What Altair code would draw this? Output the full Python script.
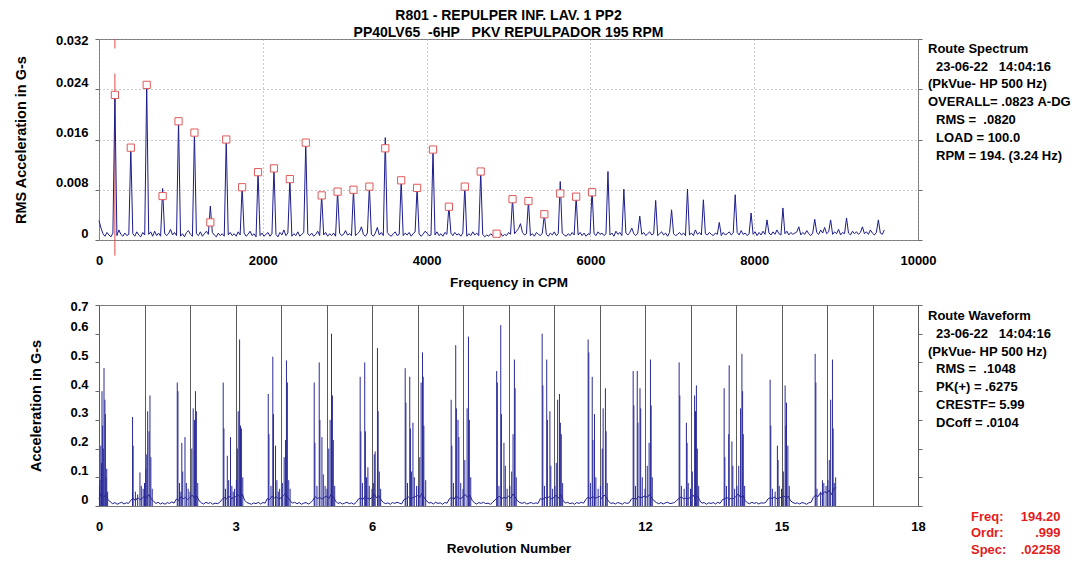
import altair as alt
import pandas as pd

# ---------------------------------------------------------------- data
FONT = "Liberation Sans"
NAVY = "#1c1c8e"
SPIKE = "#2a2a98"
MARK_RED = "#e05a5a"
CURSOR_RED = "#e04848"
READ_RED = "#e31c1c"

title_lines = ["R801 - REPULPER INF. LAV. 1 PP2",
               "PP40LV65  -6HP   PKV REPULPADOR 195 RPM"]

# 1X running speed (CPM) -> spectrum bins are 1/8 of 1X wide
RUN_CPM = 194.2
BINS_PER_ORDER = 8

# spectrum amplitude (G-s RMS) at 0 CPM and at every order 1X..49X
order_amp = [0.0031,
             0.0229, 0.0147, 0.0247, 0.0082, 0.0190, 0.0171, 0.0054, 0.0160, 0.0085, 0.0109,
             0.0115, 0.0097, 0.0155, 0.0072, 0.0078, 0.0080, 0.0086, 0.0163, 0.0095, 0.0084,
             0.0144, 0.0054, 0.0086, 0.0109, 0.0014, 0.0066, 0.0062, 0.0041, 0.0093, 0.0069,
             0.0080, 0.0109, 0.0081, 0.0038, 0.0063, 0.0048, 0.0081, 0.0064, 0.0028, 0.0072,
             0.0043, 0.0032, 0.0051, 0.0021, 0.0033, 0.0032, 0.0035, 0.0021, 0.0032]

# spectrum amplitude of the bins between order k and k+1 (k = 0..48), then the last bins
between_amp = [
    [0.0019, 0.0010, 0.0006, 0.0012, 0.0008, 0.0005, 0.0011],
    [0.0007, 0.0016, 0.0009, 0.0006, 0.0011, 0.0007, 0.0009],
    [0.0010, 0.0006, 0.0013, 0.0008, 0.0005, 0.0012, 0.0008],
    [0.0009, 0.0013, 0.0006, 0.0014, 0.0007, 0.0011, 0.0006],
    [0.0011, 0.0007, 0.0010, 0.0017, 0.0008, 0.0012, 0.0007],
    [0.0006, 0.0010, 0.0005, 0.0012, 0.0015, 0.0009, 0.0006],
    [0.0010, 0.0007, 0.0013, 0.0006, 0.0010, 0.0014, 0.0009],
    [0.0012, 0.0008, 0.0005, 0.0011, 0.0007, 0.0010, 0.0006],
    [0.0008, 0.0012, 0.0007, 0.0010, 0.0006, 0.0013, 0.0008],
    [0.0011, 0.0006, 0.0009, 0.0014, 0.0007, 0.0010, 0.0005],
    [0.0007, 0.0011, 0.0006, 0.0009, 0.0012, 0.0006, 0.0010],
    [0.0009, 0.0005, 0.0012, 0.0008, 0.0016, 0.0007, 0.0011],
    [0.0006, 0.0010, 0.0007, 0.0013, 0.0006, 0.0009, 0.0012],
    [0.0010, 0.0007, 0.0011, 0.0006, 0.0009, 0.0014, 0.0007],
    [0.0008, 0.0012, 0.0006, 0.0010, 0.0007, 0.0011, 0.0006],
    [0.0011, 0.0007, 0.0009, 0.0015, 0.0008, 0.0010, 0.0007],
    [0.0007, 0.0010, 0.0013, 0.0021, 0.0009, 0.0006, 0.0011],
    [0.0009, 0.0006, 0.0011, 0.0020, 0.0008, 0.0012, 0.0007],
    [0.0012, 0.0008, 0.0006, 0.0010, 0.0013, 0.0007, 0.0009],
    [0.0007, 0.0011, 0.0008, 0.0012, 0.0006, 0.0010, 0.0013],
    [0.0010, 0.0006, 0.0009, 0.0014, 0.0011, 0.0007, 0.0008],
    [0.0008, 0.0013, 0.0007, 0.0010, 0.0006, 0.0012, 0.0009],
    [0.0011, 0.0007, 0.0012, 0.0008, 0.0010, 0.0006, 0.0011],
    [0.0006, 0.0010, 0.0007, 0.0013, 0.0008, 0.0011, 0.0007],
    [0.0009, 0.0005, 0.0008, 0.0006, 0.0010, 0.0007, 0.0012],
    [0.0008, 0.0011, 0.0006, 0.0009, 0.0007, 0.0012, 0.0009],
    [0.0010, 0.0014, 0.0018, 0.0026, 0.0012, 0.0008, 0.0010],
    [0.0007, 0.0010, 0.0006, 0.0012, 0.0009, 0.0007, 0.0011],
    [0.0009, 0.0006, 0.0011, 0.0008, 0.0013, 0.0007, 0.0010],
    [0.0011, 0.0008, 0.0006, 0.0010, 0.0007, 0.0012, 0.0008],
    [0.0008, 0.0012, 0.0007, 0.0011, 0.0006, 0.0010, 0.0009],
    [0.0010, 0.0007, 0.0013, 0.0009, 0.0011, 0.0007, 0.0010],
    [0.0008, 0.0011, 0.0006, 0.0014, 0.0009, 0.0012, 0.0007],
    [0.0011, 0.0008, 0.0012, 0.0019, 0.0010, 0.0007, 0.0011],
    [0.0009, 0.0012, 0.0007, 0.0010, 0.0013, 0.0008, 0.0010],
    [0.0007, 0.0010, 0.0013, 0.0008, 0.0011, 0.0006, 0.0012],
    [0.0010, 0.0007, 0.0009, 0.0012, 0.0008, 0.0011, 0.0007],
    [0.0008, 0.0011, 0.0007, 0.0016, 0.0009, 0.0012, 0.0008],
    [0.0010, 0.0008, 0.0012, 0.0009, 0.0007, 0.0011, 0.0009],
    [0.0007, 0.0012, 0.0008, 0.0010, 0.0013, 0.0008, 0.0011],
    [0.0012, 0.0008, 0.0015, 0.0009, 0.0011, 0.0007, 0.0010],
    [0.0009, 0.0013, 0.0007, 0.0012, 0.0008, 0.0014, 0.0009],
    [0.0011, 0.0008, 0.0013, 0.0009, 0.0016, 0.0010, 0.0008],
    [0.0010, 0.0014, 0.0008, 0.0012, 0.0009, 0.0011, 0.0013],
    [0.0008, 0.0012, 0.0009, 0.0015, 0.0010, 0.0007, 0.0011],
    [0.0012, 0.0009, 0.0016, 0.0011, 0.0020, 0.0010, 0.0013],
    [0.0009, 0.0013, 0.0010, 0.0017, 0.0008, 0.0012, 0.0010],
    [0.0011, 0.0008, 0.0014, 0.0010, 0.0013, 0.0009, 0.0012],
    [0.0010, 0.0013, 0.0009, 0.0016, 0.0011, 0.0008, 0.0012],
    [0.0011, 0.0009, 0.0016],
]

# red square markers on orders 1X..31X
marker_amp = [0.0231, 0.0147, 0.0247, 0.0070, 0.0189, 0.0171, 0.0028, 0.0160, 0.0084, 0.0108,
              0.0114, 0.0097, 0.0155, 0.0071, 0.0077, 0.0080, 0.0085, 0.0146, 0.0095, 0.0083,
              0.0144, 0.0053, 0.0085, 0.0109, 0.0010, 0.0065, 0.0062, 0.0041, 0.0074, 0.0069,
              0.0076]

# cursor on 1X: drawn in two pieces (G-s)
cursor_lo = [-0.0025, 0.0305]
cursor_hi = [0.0265, 0.0320]

spec_x_ticks = [0, 2000, 4000, 6000, 8000, 10000]
spec_y_ticks = [0, 0.008, 0.016, 0.024, 0.032]

spectrum_info = ["Route Spectrum", " 23-06-22   14:04:16", "(PkVue- HP 500 Hz)",
                 "OVERALL= .0823 A-DG", " RMS =  .0820", " LOAD = 100.0",
                 " RPM = 194. (3.24 Hz)"]

# waveform baseline every 0.05 revolution (G-s), one row per revolution
wave_floor = [
    [0.025, 0.045, 0.030, 0.040, 0.022, 0.014, 0.008, 0.012, 0.006, 0.010, 0.013, 0.007, 0.011, 0.009, 0.020, 0.028, 0.018, 0.030, 0.022, 0.026],
    [0.035, 0.028, 0.040, 0.025, 0.016, 0.009, 0.013, 0.007, 0.011, 0.006, 0.012, 0.009, 0.014, 0.010, 0.024, 0.020, 0.032, 0.025, 0.030, 0.022],
    [0.030, 0.038, 0.026, 0.035, 0.018, 0.011, 0.007, 0.013, 0.009, 0.012, 0.006, 0.010, 0.008, 0.012, 0.022, 0.030, 0.024, 0.035, 0.026, 0.028],
    [0.032, 0.040, 0.030, 0.042, 0.020, 0.012, 0.009, 0.006, 0.011, 0.008, 0.013, 0.007, 0.012, 0.010, 0.026, 0.022, 0.034, 0.028, 0.032, 0.025],
    [0.028, 0.036, 0.044, 0.030, 0.019, 0.010, 0.013, 0.008, 0.012, 0.006, 0.010, 0.012, 0.007, 0.011, 0.020, 0.032, 0.026, 0.030, 0.024, 0.030],
    [0.034, 0.026, 0.040, 0.032, 0.017, 0.009, 0.012, 0.007, 0.010, 0.013, 0.008, 0.011, 0.006, 0.012, 0.024, 0.028, 0.022, 0.034, 0.027, 0.024],
    [0.030, 0.042, 0.028, 0.036, 0.021, 0.012, 0.008, 0.011, 0.006, 0.012, 0.009, 0.013, 0.010, 0.007, 0.022, 0.026, 0.032, 0.024, 0.029, 0.033],
    [0.036, 0.030, 0.045, 0.028, 0.018, 0.010, 0.012, 0.007, 0.013, 0.009, 0.011, 0.006, 0.012, 0.010, 0.025, 0.030, 0.023, 0.036, 0.028, 0.026],
    [0.032, 0.040, 0.030, 0.038, 0.020, 0.011, 0.007, 0.012, 0.009, 0.013, 0.008, 0.010, 0.006, 0.012, 0.021, 0.028, 0.034, 0.025, 0.030, 0.027],
    [0.034, 0.028, 0.042, 0.030, 0.017, 0.012, 0.009, 0.013, 0.007, 0.010, 0.012, 0.008, 0.011, 0.009, 0.026, 0.022, 0.030, 0.027, 0.033, 0.024],
    [0.030, 0.038, 0.027, 0.040, 0.019, 0.010, 0.013, 0.008, 0.011, 0.006, 0.012, 0.009, 0.013, 0.010, 0.023, 0.031, 0.025, 0.034, 0.026, 0.030],
    [0.033, 0.026, 0.038, 0.030, 0.016, 0.009, 0.011, 0.007, 0.012, 0.010, 0.006, 0.012, 0.009, 0.011, 0.024, 0.028, 0.022, 0.033, 0.029, 0.031],
    [0.035, 0.030, 0.040, 0.027, 0.018, 0.012, 0.008, 0.012, 0.007, 0.011, 0.013, 0.008, 0.010, 0.012, 0.020, 0.027, 0.032, 0.024, 0.028, 0.025],
    [0.031, 0.039, 0.028, 0.036, 0.020, 0.010, 0.012, 0.006, 0.011, 0.009, 0.012, 0.007, 0.013, 0.009, 0.022, 0.025, 0.030, 0.023, 0.027, 0.026],
    [0.034, 0.042, 0.030, 0.038, 0.019, 0.011, 0.008, 0.013, 0.009, 0.012, 0.007, 0.011, 0.010, 0.012, 0.024, 0.029, 0.026, 0.031, 0.025, 0.028],
    [0.030, 0.036, 0.028, 0.034, 0.018, 0.012, 0.009, 0.011, 0.007, 0.012, 0.010, 0.006, 0.011, 0.013, 0.030, 0.038, 0.032, 0.045, 0.040, 0.050],
    [0.045, 0.055, 0.040, 0.060, 0.065],
]
FLOOR_STEP = 0.05  # revolutions between baseline samples

# impacts in the waveform: (revolution, peak G-s)
wave_spikes = [
    (0.01, 0.07), (0.02, 0.09), (0.04, 0.21), (0.055, 0.15), (0.066, 0.40), (0.08, 0.28),
    (0.095, 0.20), (0.11, 0.48), (0.13, 0.37), (0.14, 0.32), (0.155, 0.10), (0.17, 0.13),
    (0.19, 0.05),
    (0.737, 0.31), (0.75, 0.21), (0.80, 0.05), (0.85, 0.04), (0.90, 0.117), (0.93, 0.07),
    (0.97, 0.06), (1.00, 0.08), (1.03, 0.13), (1.05, 0.18), (1.07, 0.33), (1.10, 0.26),
    (1.12, 0.385), (1.14, 0.17), (1.17, 0.06),
    (1.72, 0.43), (1.735, 0.40), (1.77, 0.08), (1.80, 0.05), (1.82, 0.22), (1.84, 0.12),
    (1.89, 0.24), (1.92, 0.08), (1.96, 0.06), (2.00, 0.05), (2.04, 0.20), (2.07, 0.34),
    (2.10, 0.30), (2.12, 0.40), (2.14, 0.33), (2.17, 0.08),
    (2.73, 0.43), (2.745, 0.27), (2.78, 0.06), (2.82, 0.175), (2.85, 0.09), (2.89, 0.24),
    (2.92, 0.07), (2.95, 0.05), (2.98, 0.06), (3.02, 0.09), (3.04, 0.20), (3.06, 0.33),
    (3.09, 0.58), (3.11, 0.28), (3.13, 0.27), (3.16, 0.10),
    (3.72, 0.39), (3.735, 0.25), (3.78, 0.07), (3.82, 0.52), (3.835, 0.32), (3.88, 0.21),
    (3.91, 0.09), (3.94, 0.05), (3.97, 0.06), (4.03, 0.08), (4.07, 0.17), (4.10, 0.23),
    (4.12, 0.507), (4.14, 0.43), (4.17, 0.09), (4.20, 0.06),
    (4.73, 0.43), (4.745, 0.22), (4.79, 0.07), (4.84, 0.50), (4.855, 0.30), (4.90, 0.24),
    (4.93, 0.11), (4.97, 0.07), (5.01, 0.06), (5.05, 0.20), (5.08, 0.30), (5.11, 0.60),
    (5.13, 0.385), (5.15, 0.23), (5.18, 0.07),
    (5.74, 0.45), (5.755, 0.26), (5.79, 0.08), (5.84, 0.50), (5.855, 0.26), (5.88, 0.10),
    (5.91, 0.135), (5.94, 0.07), (6.00, 0.06), (6.03, 0.08), (6.05, 0.18), (6.07, 0.19),
    (6.12, 0.55), (6.135, 0.33), (6.16, 0.12), (6.19, 0.06),
    (6.73, 0.48), (6.745, 0.36), (6.78, 0.08), (6.83, 0.45), (6.845, 0.27), (6.87, 0.12),
    (6.90, 0.29), (6.93, 0.10), (6.98, 0.07), (7.02, 0.07), (7.05, 0.17), (7.08, 0.43),
    (7.11, 0.535), (7.125, 0.45), (7.14, 0.28), (7.18, 0.09),
    (7.74, 0.37), (7.755, 0.21), (7.79, 0.08), (7.84, 0.56), (7.855, 0.34), (7.89, 0.30),
    (7.91, 0.24), (7.95, 0.08), (8.00, 0.06), (8.04, 0.16), (8.09, 0.34), (8.12, 0.59),
    (8.14, 0.30), (8.17, 0.10),
    (8.74, 0.47), (8.755, 0.43), (8.79, 0.07), (8.83, 0.63), (8.845, 0.32), (8.90, 0.22),
    (8.93, 0.14), (8.97, 0.06), (9.03, 0.07), (9.07, 0.12), (9.10, 0.25), (9.13, 0.51),
    (9.145, 0.41), (9.17, 0.10),
    (9.74, 0.60), (9.755, 0.42), (9.79, 0.07), (9.84, 0.51), (9.855, 0.30), (9.91, 0.33),
    (9.93, 0.14), (9.97, 0.06), (10.02, 0.07), (10.05, 0.15), (10.08, 0.37), (10.12, 0.39),
    (10.14, 0.29), (10.16, 0.25), (10.19, 0.08),
    (10.75, 0.58), (10.765, 0.535), (10.80, 0.08), (10.84, 0.45), (10.855, 0.23),
    (10.89, 0.32), (10.92, 0.10), (10.97, 0.06), (11.02, 0.07), (11.06, 0.20), (11.08, 0.34),
    (11.13, 0.41), (11.145, 0.26), (11.17, 0.08),
    (11.74, 0.47), (11.755, 0.35), (11.79, 0.07), (11.83, 0.47), (11.845, 0.29),
    (11.89, 0.41), (11.905, 0.34), (11.94, 0.10), (12.00, 0.06), (12.05, 0.14), (12.09, 0.22),
    (12.12, 0.51), (12.135, 0.35), (12.16, 0.10),
    (12.75, 0.50), (12.765, 0.385), (12.80, 0.07), (12.86, 0.06), (12.91, 0.29),
    (12.925, 0.22), (12.95, 0.08), (13.00, 0.06), (13.04, 0.12), (13.09, 0.385), (13.11, 0.33),
    (13.13, 0.42), (13.15, 0.20), (13.18, 0.07),
    (13.74, 0.41), (13.755, 0.17), (13.79, 0.07), (13.84, 0.25), (13.85, 0.49), (13.91, 0.225),
    (13.93, 0.14), (13.97, 0.06), (14.02, 0.07), (14.06, 0.14), (14.10, 0.34), (14.13, 0.53),
    (14.145, 0.40), (14.16, 0.25), (14.19, 0.07),
    (14.75, 0.44), (14.765, 0.28), (14.80, 0.06), (14.86, 0.05), (14.91, 0.21), (14.925, 0.16),
    (14.95, 0.07), (15.00, 0.06), (15.04, 0.12), (15.08, 0.42), (15.095, 0.28), (15.11, 0.36),
    (15.14, 0.21), (15.17, 0.07),
    (15.74, 0.53), (15.755, 0.43), (15.78, 0.06), (15.86, 0.05), (15.90, 0.09), (15.93, 0.08),
    (15.98, 0.07), (16.02, 0.09), (16.05, 0.16), (16.08, 0.37), (16.12, 0.51), (16.135, 0.27),
    (16.16, 0.08), (16.19, 0.10),
]

wave_x_ticks = [0, 1, 2, 3, 4, 5, 6, 7, 8, 9, 10, 11, 12, 13, 14, 15, 16, 17, 18]
wave_y_ticks = [0, 0.1, 0.2, 0.3, 0.4, 0.5, 0.6, 0.7]

waveform_info = ["Route Waveform", " 23-06-22   14:04:16", "(PkVue- HP 500 Hz)",
                 " RMS =  .1048", " PK(+) = .6275", " CRESTF= 5.99", " DCoff = .0104"]

readout_labels = ["Freq:", "Ordr:", "Spec:"]
readout_values = ["194.20", ".999", ".02258"]

# ---------------------------------------------------------------- frames
spec_rows = []
for k, peak in enumerate(order_amp):
    spec_rows.append({"freq": k * RUN_CPM, "amp": peak})
    for j, v in enumerate(between_amp[k]):
        spec_rows.append({"freq": (k + (j + 1) / BINS_PER_ORDER) * RUN_CPM, "amp": v})
spec_df = pd.DataFrame(spec_rows)

marker_df = pd.DataFrame({"freq": [(i + 1) * RUN_CPM for i in range(len(marker_amp))],
                          "amp": marker_amp})
cursor_df = pd.DataFrame({"freq": [RUN_CPM] * len(cursor_lo), "lo": cursor_lo, "hi": cursor_hi})

floor_rows = []
for n, row in enumerate(wave_floor):
    for j, v in enumerate(row):
        floor_rows.append({"rev": n + j * FLOOR_STEP, "g": v})
floor_df = pd.DataFrame(floor_rows)
spike_df = pd.DataFrame(wave_spikes, columns=["rev", "g"])

# ---------------------------------------------------------------- layout
W, H = 819, 201
INFO_X, INDENT, LINE_H = 829, 8, 17.8


def nb(s):
    return s.replace(" ", "\u00a0")


def text_line(s, x, y, color="black", align="left"):
    return alt.Chart(pd.DataFrame({"t": [nb(s)]})).mark_text(
        font=FONT, fontSize=13, fontWeight="bold", align=align, baseline="middle", color=color
    ).encode(text="t:N", x=alt.value(x), y=alt.value(y))


def info_block(lines, y0):
    out = []
    for i, s in enumerate(lines):
        x = INFO_X + (INDENT if s.startswith(" ") else 0)
        out.append(text_line(s.strip(), x, y0 + i * LINE_H))
    return out


# ---- spectrum
xs = alt.Scale(domain=[0, 10000], nice=False, zero=False)
ys = alt.Scale(domain=[0, 0.032], nice=False)
x_spec_axis = alt.Axis(
    values=spec_x_ticks, format="d", title="Frequency in CPM", ticks=False, domain=False,
    labelPadding=14, titlePadding=8, labelFlush=False, labelOverlap=False,
    grid=True, gridDash=[1, 3], gridColor="#9a9a9a", gridWidth=1)

spec_line = alt.Chart(spec_df).mark_line(color=NAVY, strokeWidth=1).encode(
    x=alt.X("freq:Q", scale=xs, axis=x_spec_axis),
    y=alt.Y("amp:Q", scale=ys, axis=alt.Axis(
        values=spec_y_ticks, title="RMS Acceleration in G-s", tickSize=4, domain=False,
        labelPadding=7, titlePadding=27,
        labelExpr="datum.value == 0 ? '0' : format(datum.value, '.3f')",
        labelOffset={"condition": {"test": "datum.value >= 0.032", "value": 1}, "value": -7},
        grid=True, gridDash=[1, 3], gridColor="#9a9a9a", gridWidth=1)),
)
cursor = alt.Chart(cursor_df).mark_rule(color=CURSOR_RED, strokeWidth=1).encode(
    x=alt.X("freq:Q", scale=xs, axis=x_spec_axis),
    y=alt.Y("lo:Q", scale=ys, axis=None), y2="hi:Q")
markers = alt.Chart(marker_df).mark_point(
    shape="square", size=52, filled=True, fill="white", stroke=MARK_RED, strokeWidth=1, opacity=1
).encode(x=alt.X("freq:Q", scale=xs, axis=x_spec_axis),
         y=alt.Y("amp:Q", scale=ys, axis=None))
spec_right = alt.Chart(marker_df).mark_point(opacity=0).encode(
    y=alt.Y("amp:Q", scale=ys, axis=alt.Axis(
        orient="right", values=spec_y_ticks, labels=False, domain=False, tickSize=4,
        grid=False, title=None)))

top = alt.layer(cursor, spec_line, markers, spec_right, *info_block(spectrum_info, 9.8)).resolve_axis(
    y="independent").properties(
    width=W, height=H,
    title=alt.TitleParams([nb(t) for t in title_lines], anchor="middle", frame="group",
                          font=FONT, fontSize=14, fontWeight="bold", color="black",
                          lineHeight=17, offset=-6))

# ---- waveform
xw = alt.Scale(domain=[0, 18], nice=False, zero=False)
yw = alt.Scale(domain=[0, 0.7], nice=False)
x_wave_axis = alt.Axis(
    values=wave_x_ticks, format="d", title="Revolution Number", ticks=False, domain=False,
    labelPadding=14, titlePadding=8, labelFlush=False, labelOverlap=False,
    labelExpr="datum.value % 3 == 0 ? datum.label : ''",
    grid=True, gridColor="#5c5c5c", gridWidth=1)

wave_line = alt.Chart(floor_df).mark_line(color=NAVY, strokeWidth=1).encode(
    x=alt.X("rev:Q", scale=xw, axis=x_wave_axis),
    y=alt.Y("g:Q", scale=yw, axis=alt.Axis(
        values=wave_y_ticks, title="Acceleration in G-s", tickSize=4, domain=False,
        labelPadding=7, titlePadding=26, grid=False,
        labelExpr="datum.value == 0 ? '0' : format(datum.value, '.1f')",
        labelOffset={"condition": {"test": "datum.value >= 0.7", "value": 1}, "value": -7})),
)
spikes = alt.Chart(spike_df).mark_rule(color=SPIKE, strokeWidth=1).encode(
    x=alt.X("rev:Q", scale=xw, axis=x_wave_axis),
    y=alt.Y("g:Q", scale=yw, axis=None), y2=alt.datum(0))
wave_right = alt.Chart(spike_df).mark_point(opacity=0).encode(
    y=alt.Y("g:Q", scale=yw, axis=alt.Axis(
        orient="right", values=wave_y_ticks, labels=False, domain=False, tickSize=4,
        grid=False, title=None)))

readout = []
for i, (lab, val) in enumerate(zip(readout_labels, readout_values)):
    readout.append(text_line(lab, 872, 211.7 + i * 16.6, color=READ_RED))
    readout.append(text_line(val, 961.5, 211.7 + i * 16.6, color=READ_RED, align="right"))

bottom = alt.layer(wave_line, spikes, wave_right, *info_block(waveform_info, 11.0),
                   *readout).resolve_axis(y="independent").properties(width=W, height=H)

chart = alt.vconcat(top, bottom, spacing=65, bounds="flush").properties(
    padding={"left": 4, "top": 0, "right": 0, "bottom": 0}
).configure(font=FONT).configure_view(stroke="#7a7a7a", strokeWidth=1).configure_axis(
    labelFont=FONT, labelFontSize=13, labelFontWeight="bold", labelColor="black",
    titleFont=FONT, titleFontWeight="bold", titleColor="black", tickColor="#6a6a6a"
).configure_axisX(titleFontSize=13.5).configure_axisY(titleFontSize=14.5)

chart.save("out.html", embed_options={"renderer": "svg", "actions": False})
